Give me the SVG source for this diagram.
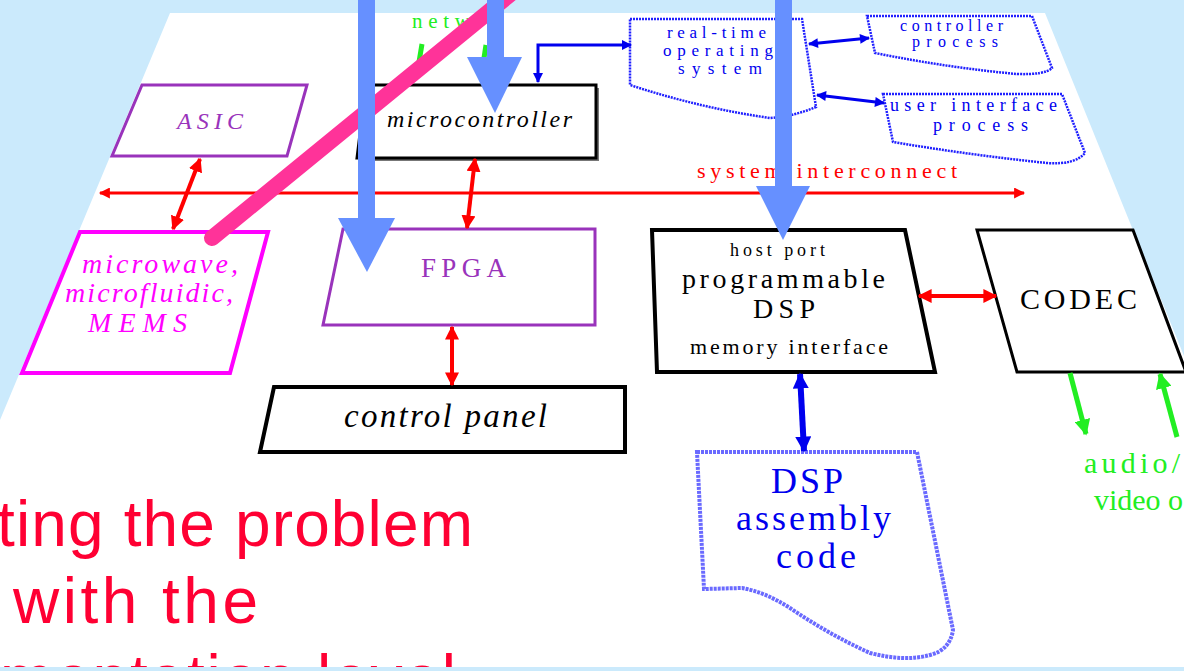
<svg xmlns="http://www.w3.org/2000/svg" width="1184" height="671" viewBox="0 0 1184 671">
<style>
.serif{font-family:"Liberation Serif","Times New Roman",serif}
.it{font-style:italic}
.blk{fill:#fff;stroke:#000;stroke-linejoin:miter}
.purp{fill:#fff;stroke:#9933bb;stroke-width:3}
.dash{fill:#fff;stroke:#2020ff;stroke-width:2.5;stroke-dasharray:2 1}
.bt{fill:#0000ee}
.red{stroke:#ff0000;fill:none}
.blue{stroke:#0000ee;fill:none}
.green{stroke:#22ee22;fill:none}
.ov{fill:#6690ff}
.big{font-family:"Liberation Sans",Arial,sans-serif;fill:#ff0033;font-size:64px}
</style>
<defs>
<marker id="rh" viewBox="0 0 10 10" refX="9" refY="5" markerWidth="14" markerHeight="14" markerUnits="userSpaceOnUse" orient="auto-start-reverse"><path d="M0,0 L10,5 L0,10 z" fill="#ff0000"/></marker>
<marker id="rhs" viewBox="0 0 10 10" refX="9" refY="5" markerWidth="14" markerHeight="11" markerUnits="userSpaceOnUse" orient="auto-start-reverse"><path d="M0,0 L10,5 L0,10 z" fill="#ff0000"/></marker>
<marker id="bh" viewBox="0 0 10 10" refX="9" refY="5" markerWidth="12" markerHeight="10" markerUnits="userSpaceOnUse" orient="auto-start-reverse"><path d="M0,0 L10,5 L0,10 z" fill="#0000ee"/></marker>
<marker id="bhb" viewBox="0 0 10 10" refX="9" refY="5" markerWidth="16" markerHeight="16" markerUnits="userSpaceOnUse" orient="auto-start-reverse"><path d="M0,0 L10,5 L0,10 z" fill="#0000ee"/></marker>
<marker id="gh" viewBox="0 0 10 10" refX="9" refY="5" markerWidth="16" markerHeight="16" markerUnits="userSpaceOnUse" orient="auto-start-reverse"><path d="M0,0 L10,5 L0,10 z" fill="#22ee22"/></marker>
</defs>
<rect x="0" y="0" width="1184" height="671" fill="#cbeafc"/>
<polygon points="170,13 1045,13 1184,356 1184,667 0,667 0,420" fill="#ffffff"/>

<g id="asic">
<polygon class="purp" points="142,85 307,85 287,156 112,156"/>
<text class="serif it" x="177" y="129" font-size="24" fill="#9933bb" textLength="66">ASIC</text>
</g>
<g id="microcontroller">
<polygon points="368,88 599,88 599,161 359,161" fill="#777"/>
<polygon class="blk" stroke-width="3" points="366,85 596,85 596,158 357,158"/>
<text class="serif it" x="387" y="127" font-size="24" fill="#000" textLength="185">microcontroller</text>
</g>
<g id="network">
<text class="serif" x="412" y="28" font-size="21" fill="#22ee22" textLength="58">netw</text>
</g>
<g id="rtos">
<path class="dash" d="M630,19 L802,19 L816,107 Q795,116 770,118 Q700,108 630,85 Z"/>
<text class="serif bt" x="667" y="38" font-size="17" textLength="99">real-time</text>
<text class="serif bt" x="663" y="56" font-size="17" textLength="110">operating</text>
<text class="serif bt" x="678" y="74" font-size="17" textLength="84">system</text>
</g>
<g id="controller-process">
<path class="dash" d="M867,16 L1032,16 L1052,68 Q1045,75 1017,74 Q950,68 875,53 Z"/>
<text class="serif bt" x="900" y="31" font-size="16" textLength="103">controller</text>
<text class="serif bt" x="912" y="47" font-size="16" textLength="86">process</text>
</g>
<g id="ui-process">
<path class="dash" d="M883,94 L1062,94 L1085,153 Q1075,165 1047,163 Q970,155 893,142 Z"/>
<text class="serif bt" x="890" y="111" font-size="18" textLength="167">user interface</text>
<text class="serif bt" x="933" y="131" font-size="18" textLength="95">process</text>
</g>
<g id="sysint-label">
<text class="serif" x="697" y="178" font-size="22" fill="#ff0000" textLength="260">system interconnect</text>
</g>
<g id="mems">
<polygon points="80,232 268,232 230,373 22,373" fill="#fff" stroke="#ff00ff" stroke-width="4"/>
<text class="serif it" x="82" y="273" font-size="28" fill="#ff00ff" textLength="156">microwave,</text>
<text class="serif it" x="65" y="302" font-size="28" fill="#ff00ff" textLength="168">microfluidic,</text>
<text class="serif it" x="88" y="332" font-size="28" fill="#ff00ff" textLength="99">MEMS</text>
</g>
<g id="fpga">
<polygon class="purp" points="343,229 595,229 595,325 323,325"/>
<text class="serif" x="421" y="277" font-size="27" fill="#9933bb" textLength="85">FPGA</text>
</g>
<g id="control-panel">
<polygon class="blk" stroke-width="4" points="274,387 625,387 625,452 260,452"/>
<text class="serif it" x="344" y="427" font-size="33" fill="#000" textLength="203">control panel</text>
</g>
<g id="dsp">
<polygon class="blk" stroke-width="4" points="652,230 905,230 935,372 657,372"/>
<text class="serif" x="730" y="256" font-size="18" fill="#000" textLength="95">host port</text>
<text class="serif" x="682" y="288" font-size="28" fill="#000" textLength="203">programmable</text>
<text class="serif" x="753" y="318" font-size="28" fill="#000" textLength="62">DSP</text>
<text class="serif" x="690" y="354" font-size="22" fill="#000" textLength="198">memory interface</text>
</g>
<g id="codec">
<polygon class="blk" stroke-width="3" points="977,230 1133,230 1186,372 1017,372"/>
<text class="serif" x="1020" y="309" font-size="30" fill="#000" textLength="117">CODEC</text>
</g>
<g id="asm">
<path d="M697,452 L917,452 L953,630 Q950,650 930,655 Q905,662 870,653 Q830,635 790,608 Q765,592 742,588 L704,589 Z" fill="#fff" stroke="#6a6aff" stroke-width="4" stroke-dasharray="3 1"/>
<text class="serif bt" x="771" y="493" font-size="36" textLength="72">DSP</text>
<text class="serif bt" x="736" y="530" font-size="36" textLength="155">assembly</text>
<text class="serif bt" x="776" y="568" font-size="36" textLength="80">code</text>
</g>
<g id="av">
<text class="serif" x="1084" y="473" font-size="30" fill="#22ee22" textLength="96">audio/</text>
<text class="serif" x="1094" y="510" font-size="30" fill="#22ee22" textLength="89">video o</text>
</g>

<g id="connectors">
<line class="red" stroke-width="3" x1="100" y1="193" x2="1024" y2="193" marker-start="url(#rhs)" marker-end="url(#rhs)"/>
<line class="red" stroke-width="4" x1="200" y1="159" x2="173" y2="229" marker-start="url(#rh)" marker-end="url(#rh)"/>
<line class="red" stroke-width="4" x1="475" y1="159" x2="467" y2="228" marker-start="url(#rh)" marker-end="url(#rh)"/>
<line class="red" stroke-width="4" x1="452" y1="327" x2="452" y2="385" marker-start="url(#rh)" marker-end="url(#rh)"/>
<line class="red" stroke-width="4" x1="919" y1="296" x2="996" y2="296" marker-start="url(#rh)" marker-end="url(#rh)"/>
<path class="blue" stroke-width="3" d="M538,82 L538,45 L631,45" marker-start="url(#bh)" marker-end="url(#bh)"/>
<line class="blue" stroke-width="3" x1="809" y1="44" x2="869" y2="38" marker-start="url(#bh)" marker-end="url(#bh)"/>
<line class="blue" stroke-width="3" x1="817" y1="95" x2="884" y2="103" marker-start="url(#bh)" marker-end="url(#bh)"/>
<line class="blue" stroke-width="6" x1="800" y1="374" x2="804" y2="451" marker-start="url(#bhb)" marker-end="url(#bhb)"/>
<line class="green" stroke-width="5" x1="1070" y1="373" x2="1086" y2="434" marker-end="url(#gh)"/>
<line class="green" stroke-width="5" x1="1177" y1="437" x2="1160" y2="374" marker-end="url(#gh)"/>
<line class="green" stroke-width="5" x1="422" y1="44" x2="419" y2="62"/>
<line class="green" stroke-width="5" x1="486" y1="45" x2="484" y2="58"/>
</g>

<g id="caption">
<text class="big" x="-3" y="546" textLength="476">ting the problem</text>
<text class="big" x="13" y="623" textLength="245">with the</text>
<text class="big" x="0" y="700" textLength="456">mentation level</text>
</g>

<g id="overlay">
<line x1="212" y1="238" x2="530" y2="-22" stroke="#ff3399" stroke-width="16" stroke-linecap="round"/>
<rect class="ov" x="358" y="-5" width="17" height="225"/>
<polygon class="ov" points="338,218 395,218 367,272"/>
<rect class="ov" x="487" y="-5" width="17" height="64"/>
<polygon class="ov" points="467,57 522,57 495,113"/>
<rect class="ov" x="775" y="-5" width="17" height="193"/>
<polygon class="ov" points="756,186 810,186 783,240"/>
</g>
<rect x="0" y="667" width="1184" height="4" fill="#cbeafc"/>
</svg>
